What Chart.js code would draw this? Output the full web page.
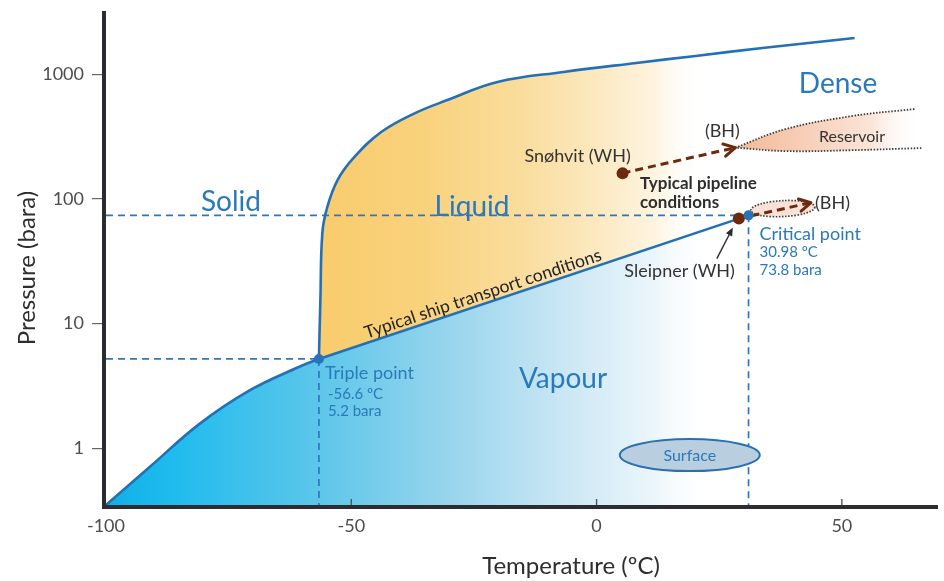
<!DOCTYPE html>
<html>
<head>
<meta charset="utf-8">
<script src="https://cdn.jsdelivr.net/npm/chart.js@4.4.1/dist/chart.umd.min.js"></script>
<style>
  html, body { margin: 0; padding: 0; background: #fff; }
  #wrap { width: 944px; height: 581px; position: relative; }
</style>
</head>
<body>
<div id="wrap"><canvas id="phase" width="944" height="581"></canvas></div>
<script>
// CO2 phase diagram: temperature (ºC) against pressure (bara, log scale)

const xTicks = [-100, -50, 0, 50];
const yTicks = [1, 10, 100, 1000];

// Solid–vapour boundary (sublimation)
const sublimationT = [-100, -91.1, -81.0, -70.9, -60.7, -56.6];
const sublimationP = [0.35, 0.706, 1.56, 2.88, 4.48, 5.2];

// Solid–liquid boundary (melting)
const meltingT = [-56.6, -56.3, -55.9, -54.9, -52.8, -49.4, -43.9, -37.0, -30.4, -20.2, -6.7, 8.1, 20.2, 33.8, 52.6];
const meltingP = [5.2, 15.4, 53.2, 85.9, 141.6, 216, 344, 488, 621, 867, 1044, 1233, 1404, 1625, 1954];

// Liquid–vapour boundary (boiling), triple point to critical point
const boilingT = [-56.6, 30.98];
const boilingP = [5.2, 73.8];

const triplePoint = { t: -56.6, p: 5.2 };
const criticalPoint = { t: 30.98, p: 73.8 };

// Field cases: wellhead (WH) to bottom hole (BH)
const snohvitT = [5.3, 28.3];
const snohvitP = [161, 258];
const sleipnerT = [29.0, 43.7];
const sleipnerP = [69.5, 93.4];

// Reservoir envelope: upper edge from the right to the tip, then lower edge
const reservoirUpperT = [64.8, 52.0, 38.5, 28.3];
const reservoirUpperP = [526, 462, 363, 258];
const reservoirLowerT = [28.3, 38.5, 52.0, 66.2];
const reservoirLowerP = [258, 242, 246, 256];

// Surface conditions
const surface = { t: 19.0, p: 0.88 };

const P_MIN = 0.35, P_MAX = 3220;
const T_MIN = -100, T_MAX = 69.6;

const zip = (ts, ps) => ts.map((t, i) => ({ x: t, y: ps[i] }));
const sub = zip(sublimationT, sublimationP);
const melt = zip(meltingT, meltingP);
const boil = zip(boilingT, boilingP);
const tp = { x: triplePoint.t, y: triplePoint.p };
const cp = { x: criticalPoint.t, y: criticalPoint.p };

// Closed outlines for the shaded regions (repeated points keep the corners sharp)
const vapourShape = [
  ...sub.slice(0, -1), { ...tp }, { ...tp }, { ...cp }, { ...cp },
  { x: cp.x, y: P_MIN }, { x: cp.x, y: P_MIN }
];
const liquidShape = [
  { ...tp }, ...melt, { ...melt[melt.length - 1] }, { ...cp }, { ...cp }, { ...tp }
];
const resUp = zip(reservoirUpperT, reservoirUpperP);
const resLow = zip(reservoirLowerT, reservoirLowerP);
const reservoirShape = [...resUp, ...resLow];

const BLUE_CURVE = '#2470b5';
const BLUE_DASH = '#2f76c0';
const BLUE_TEXT = '#2a79bb';
const BROWN = '#6b2a0e';

function hGradient(chart, stops) {
  const { ctx, chartArea, scales } = chart;
  if (!chartArea || !scales.x) return 'rgba(0,0,0,0)';
  const x0 = scales.x.getPixelForValue(stops[0][0]);
  const x1 = scales.x.getPixelForValue(stops[stops.length - 1][0]);
  const g = ctx.createLinearGradient(x0, 0, x1, 0);
  stops.forEach(([t, c]) => {
    const f = (scales.x.getPixelForValue(t) - x0) / (x1 - x0);
    g.addColorStop(Math.min(1, Math.max(0, f)), c);
  });
  return g;
}

const vapourStops = [
  [-100, 'rgb(14,176,232)'], [-85, 'rgb(34,188,238)'], [-57, 'rgb(92,198,234)'],
  [-30, 'rgb(152,213,237)'], [-5, 'rgb(206,232,245)'], [12, 'rgb(236,246,251)'],
  [24, 'rgba(255,255,255,0)']
];
const liquidStops = [
  [-57, 'rgb(249,204,108)'], [-35, 'rgb(249,210,125)'], [-15, 'rgb(250,221,157)'],
  [0, 'rgb(252,233,192)'], [12, 'rgb(254,244,224)'], [22, 'rgba(255,255,255,0)']
];
const reservoirStops = [
  [28.3, 'rgb(243,184,150)'], [42, 'rgb(247,206,184)'], [56, 'rgb(251,228,216)'],
  [66, 'rgba(255,255,255,0)']
];

const lineBase = { pointRadius: 0, pointHoverRadius: 0, tension: 0 };

const datasets = [
  { ...lineBase, label: 'Vapour', data: vapourShape, fill: 'shape', tension: 0.4,
    backgroundColor: c => hGradient(c.chart, vapourStops),
    borderColor: 'rgba(0,0,0,0)', borderWidth: 0, order: 30 },
  { ...lineBase, label: 'Liquid', data: liquidShape, fill: 'shape', tension: 0.4,
    backgroundColor: c => hGradient(c.chart, liquidStops),
    borderColor: 'rgba(0,0,0,0)', borderWidth: 0, order: 29 },
  { ...lineBase, label: 'Reservoir', data: reservoirShape, fill: 'shape', tension: 0.4,
    backgroundColor: c => hGradient(c.chart, reservoirStops),
    borderColor: '#3c3c3c', borderWidth: 1.8, borderDash: [1.5, 1.6], order: 28 },

  { ...lineBase, label: 'Triple T', data: [{ x: T_MIN, y: tp.y }, { ...tp }],
    borderColor: BLUE_DASH, borderWidth: 1.7, borderDash: [7, 5], order: 20 },
  { ...lineBase, label: 'Triple P', data: [{ ...tp }, { x: tp.x, y: P_MIN }],
    borderColor: BLUE_DASH, borderWidth: 1.7, borderDash: [7, 5], order: 20 },
  { ...lineBase, label: 'Critical T', data: [{ x: T_MIN, y: cp.y }, { ...cp }],
    borderColor: BLUE_DASH, borderWidth: 1.7, borderDash: [7, 5], order: 20 },
  { ...lineBase, label: 'Critical P', data: [{ ...cp }, { x: cp.x, y: P_MIN }],
    borderColor: BLUE_DASH, borderWidth: 1.7, borderDash: [7, 5], order: 20 },

  { ...lineBase, label: 'Sublimation', data: sub, tension: 0.4,
    borderColor: BLUE_CURVE, borderWidth: 2.6, order: 10 },
  { ...lineBase, label: 'Melting', data: melt, tension: 0.4,
    borderColor: BLUE_CURVE, borderWidth: 2.6, order: 10 },
  { ...lineBase, label: 'Boiling', data: boil,
    borderColor: BLUE_CURVE, borderWidth: 2.6, order: 10 },

  { ...lineBase, label: 'Snøhvit', data: zip(snohvitT, snohvitP),
    borderColor: BROWN, borderWidth: 3, borderDash: [8, 5],
    pointRadius: [6, 0], pointBackgroundColor: BROWN, pointBorderWidth: 0, order: 3 },
  { ...lineBase, label: 'Sleipner', data: zip(sleipnerT, sleipnerP),
    borderColor: BROWN, borderWidth: 3, borderDash: [8, 5],
    pointRadius: [6, 0], pointBackgroundColor: BROWN, pointBorderWidth: 0, order: 2 },

  { ...lineBase, label: 'Phase points', data: [{ ...tp }, { ...cp }], showLine: false,
    pointRadius: 5, pointBackgroundColor: '#2a72b8', pointBorderWidth: 0, order: 1 }
];

function chevron(ctx, x0, y0, x1, y1, color) {
  const a = Math.atan2(y1 - y0, x1 - x0);
  const len = 13, spread = 0.5;
  ctx.save();
  ctx.strokeStyle = color;
  ctx.lineWidth = 3;
  ctx.lineCap = 'round';
  ctx.lineJoin = 'round';
  ctx.setLineDash([]);
  ctx.beginPath();
  ctx.moveTo(x1 - len * Math.cos(a - spread), y1 - len * Math.sin(a - spread));
  ctx.lineTo(x1, y1);
  ctx.lineTo(x1 - len * Math.cos(a + spread), y1 - len * Math.sin(a + spread));
  ctx.stroke();
  ctx.restore();
}

function text(ctx, str, x, y, font, color, align = 'left', baseline = 'alphabetic') {
  ctx.font = font;
  ctx.fillStyle = color;
  ctx.textAlign = align;
  ctx.textBaseline = baseline;
  ctx.fillText(str, x, y);
}

const annotations = {
  id: 'phaseAnnotations',
  beforeDraw(chart) {
    const c = chart.ctx;
    c.save();
    c.fillStyle = '#ffffff';
    c.fillRect(0, 0, chart.width, chart.height);
    c.restore();
  },
  beforeDatasetDraw(chart, args) {
    if (chart.data.datasets[args.index].label !== 'Sleipner') return;
    const { ctx, scales } = chart;
    const x0 = scales.x.getPixelForValue(sleipnerT[0]), y0 = scales.y.getPixelForValue(sleipnerP[0]);
    const x1 = scales.x.getPixelForValue(sleipnerT[1]), y1 = scales.y.getPixelForValue(sleipnerP[1]);
    const cx = (x0 + x1) / 2 + 8, cy = (y0 + y1) / 2 - 2;
    ctx.save();
    ctx.beginPath();
    ctx.ellipse(cx, cy, 32, 8, -0.05, 0, Math.PI * 2);
    ctx.fillStyle = 'rgba(247,218,202,0.8)';
    ctx.fill();
    ctx.setLineDash([1.5, 1.6]);
    ctx.lineWidth = 1.7;
    ctx.strokeStyle = '#3c3c3c';
    ctx.stroke();
    ctx.restore();
  },
  afterDatasetsDraw(chart) {
    const { ctx, scales, chartArea } = chart;
    const X = v => scales.x.getPixelForValue(v);
    const Y = v => scales.y.getPixelForValue(v);
    ctx.save();

    // arrowheads on the WH → BH paths
    chevron(ctx, X(snohvitT[0]), Y(snohvitP[0]), X(snohvitT[1]), Y(snohvitP[1]), BROWN);
    chevron(ctx, X(sleipnerT[0]), Y(sleipnerP[0]), X(sleipnerT[1]), Y(sleipnerP[1]), BROWN);

    // surface ellipse
    const sx = X(surface.t), sy = Y(surface.p);
    ctx.beginPath();
    ctx.ellipse(sx, sy, 70, 16, 0, 0, Math.PI * 2);
    ctx.fillStyle = '#b9cfe0';
    ctx.fill();
    ctx.lineWidth = 2;
    ctx.strokeStyle = '#2a6fb3';
    ctx.stroke();
    text(ctx, 'Surface', sx, sy + 1, '16px Lato', BLUE_TEXT, 'center', 'middle');

    // region names
    const region = '28px Lato';
    text(ctx, 'Solid', 231, 202, region, BLUE_TEXT, 'center', 'middle');
    text(ctx, 'Liquid', 472, 207, region, BLUE_TEXT, 'center', 'middle');
    text(ctx, 'Dense', 838, 84, region, BLUE_TEXT, 'center', 'middle');
    text(ctx, 'Vapour', 563, 379, region, BLUE_TEXT, 'center', 'middle');

    // triple point annotation
    const tx = X(triplePoint.t), ty = Y(triplePoint.p);
    text(ctx, 'Triple point', tx + 6, ty + 20, '18px Lato', BLUE_TEXT);
    text(ctx, '-56.6 ºC', tx + 9, ty + 40, '15px Lato', BLUE_TEXT);
    text(ctx, '5.2 bara', tx + 9, ty + 57, '15px Lato', BLUE_TEXT);

    // critical point annotation
    const kx = X(criticalPoint.t), ky = Y(criticalPoint.p);
    text(ctx, 'Critical point', kx + 11, ky + 25, '18px Lato', BLUE_TEXT);
    text(ctx, '30.98 ºC', kx + 11, ky + 42, '15px Lato', BLUE_TEXT);
    text(ctx, '73.8 bara', kx + 11, ky + 60, '15px Lato', BLUE_TEXT);

    // field case labels
    const dark = '#333333';
    const wx = X(snohvitT[0]), wy = Y(snohvitP[0]);
    text(ctx, 'Snøhvit (WH)', wx - 45, wy - 11, '18px Lato', dark, 'center');
    const bx = X(snohvitT[1]), by = Y(snohvitP[1]);
    text(ctx, '(BH)', bx - 13, by - 11, '18px Lato', dark, 'center');
    text(ctx, 'Reservoir', 852, 142, '16px Lato', dark, 'center');

    const lx = X(sleipnerT[0]), ly = Y(sleipnerP[0]);
    text(ctx, 'Sleipner (WH)', lx - 4, ly + 58, '18px Lato', dark, 'right');
    const ex = X(sleipnerT[1]), ey = Y(sleipnerP[1]);
    text(ctx, '(BH)', ex + 4, ey + 6, '18px Lato', dark, 'left');

    // pointer to the Sleipner wellhead
    const ax0 = lx - 22, ay0 = ly + 40, ax1 = lx - 6, ay1 = ly + 9;
    const aa = Math.atan2(ay1 - ay0, ax1 - ax0);
    ctx.strokeStyle = '#2b2b2b';
    ctx.lineWidth = 1.4;
    ctx.setLineDash([]);
    ctx.beginPath();
    ctx.moveTo(ax0, ay0);
    ctx.lineTo(ax1 - 6 * Math.cos(aa), ay1 - 6 * Math.sin(aa));
    ctx.stroke();
    ctx.fillStyle = '#2b2b2b';
    ctx.beginPath();
    ctx.moveTo(ax1, ay1);
    ctx.lineTo(ax1 - 9 * Math.cos(aa - 0.4), ay1 - 9 * Math.sin(aa - 0.4));
    ctx.lineTo(ax1 - 9 * Math.cos(aa + 0.4), ay1 - 9 * Math.sin(aa + 0.4));
    ctx.closePath();
    ctx.fill();

    // transport notes
    text(ctx, 'Typical pipeline', 640, 189, 'bold 17px Lato', '#2e2e2e');
    text(ctx, 'conditions', 640, 208, 'bold 17px Lato', '#2e2e2e');

    const px0 = X(boilingT[0]), py0 = Y(boilingP[0]);
    const px1 = X(boilingT[1]), py1 = Y(boilingP[1]);
    const ang = Math.atan2(py1 - py0, px1 - px0);
    const mx = 486;
    const my = py0 + (py1 - py0) * (mx - px0) / (px1 - px0);
    ctx.save();
    ctx.translate(mx + 4 * Math.sin(ang), my - 4 * Math.cos(ang));
    ctx.rotate(ang);
    text(ctx, 'Typical ship transport conditions', 0, 0, '17.5px Lato', '#222222', 'center', 'alphabetic');
    ctx.restore();

    // axes
    ctx.fillStyle = '#2b2d30';
    ctx.fillRect(chartArea.left - 4, chartArea.top, 4, chartArea.bottom - chartArea.top + 4);
    ctx.fillRect(chartArea.left - 4, chartArea.bottom, chartArea.right - chartArea.left + 4, 4);

    // inward x tick marks
    ctx.strokeStyle = '#555';
    ctx.lineWidth = 1.4;
    xTicks.forEach(v => {
      if (v === T_MIN) return;
      const x = X(v);
      ctx.beginPath();
      ctx.moveTo(x, chartArea.bottom);
      ctx.lineTo(x, chartArea.bottom - 6);
      ctx.stroke();
    });

    // axis titles
    text(ctx, 'Temperature (ºC)', 571, 566, '24px Lato', '#2e2e2e', 'center', 'middle');
    ctx.save();
    ctx.translate(27, 268);
    ctx.rotate(-Math.PI / 2);
    text(ctx, 'Pressure (bara)', 0, 0, '24px Lato', '#2e2e2e', 'center', 'middle');
    ctx.restore();

    ctx.restore();
  }
};

new Chart(document.getElementById('phase'), {
  type: 'line',
  data: { datasets },
  plugins: [annotations],
  options: {
    responsive: false,
    animation: false,
    events: [],
    layout: { padding: { left: 0, right: 0, top: 11, bottom: 0 } },
    plugins: { legend: { display: false }, tooltip: { enabled: false } },
    scales: {
      x: {
        type: 'linear', min: T_MIN, max: T_MAX,
        afterFit: s => { s.height = 76; s.paddingLeft = 0; s.paddingRight = 0; },
        afterBuildTicks: s => { s.ticks = xTicks.map(v => ({ value: v })); },
        grid: { display: false, drawTicks: false },
        border: { display: false },
        ticks: { autoSkip: false, maxRotation: 0, padding: 10,
                 font: { family: 'Lato', size: 18 }, color: '#4d4d4d',
                 callback: v => String(v) }
      },
      y: {
        type: 'logarithmic', min: P_MIN, max: P_MAX,
        afterFit: s => { s.width = 106; s.paddingTop = 0; s.paddingBottom = 0; },
        afterBuildTicks: s => { s.ticks = yTicks.map(v => ({ value: v, major: true })); },
        grid: { drawOnChartArea: false, drawTicks: true, tickLength: 14, color: '#666', lineWidth: 1.2 },
        border: { display: false },
        ticks: { autoSkip: false, padding: 8,
                 font: { family: 'Lato', size: 18 }, color: '#4d4d4d',
                 callback: v => String(v) }
      }
    }
  }
});
</script>
</body>
</html>
